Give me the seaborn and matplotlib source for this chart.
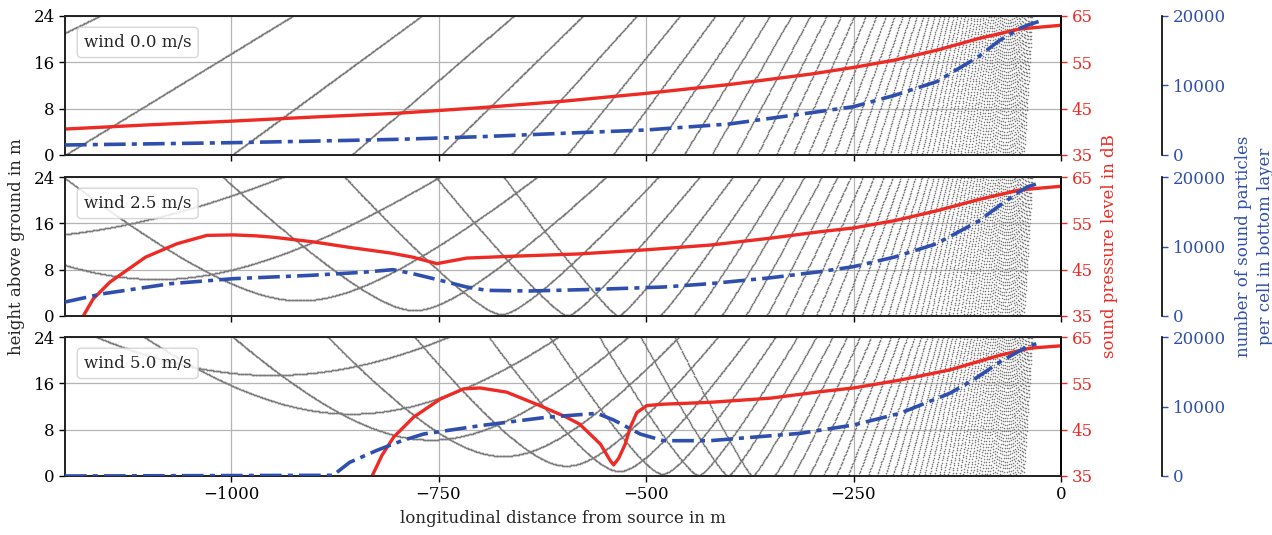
import numpy as np
import pandas as pd
import matplotlib
matplotlib.use("Agg")
import matplotlib.pyplot as plt
import seaborn as sns

# ---------------- data ----------------
WIND_SPEEDS = [0.0, 2.5, 5.0]
PANEL_LABELS = ["wind 0.0 m/s", "wind 2.5 m/s", "wind 5.0 m/s"]

# sound pressure level (dB) along the ground
p1_spl_x = [-1200, -1100, -1000, -900, -800, -750, -700, -600, -500, -400, -300, -250, -200, -150, -100, -50, 0]
p1_spl_y = [40.6, 41.5, 42.3, 43.2, 44.0, 44.6, 45.2, 46.6, 48.3, 50.2, 52.5, 53.9, 55.5, 57.6, 60.1, 62.2, 63.0]

p2_spl_x = [-1178, -1166, -1146, -1103, -1065, -1029, -997, -970, -949, -901, -853, -808, -781, -752,
            -716, -660, -580, -499, -423, -350, -290, -250, -200, -150, -100, -50, 0]
p2_spl_y = [35.0, 38.7, 42.3, 47.7, 50.6, 52.4, 52.5, 52.3, 52.0, 51.0, 49.7, 48.6, 47.7, 46.3,
            47.5, 47.9, 48.4, 49.3, 50.3, 51.8, 53.2, 54.0, 55.6, 57.7, 60.1, 62.2, 63.0]

p3_spl_x = [-830, -818, -804, -780, -748, -720, -700, -668, -628, -596, -580, -555, -543, -539,
            -533, -525, -519, -511, -499, -479, -423, -350, -290, -250, -194, -134, -73, -37, 0]
p3_spl_y = [35.0, 39.5, 43.4, 47.7, 51.6, 53.8, 54.0, 53.1, 50.2, 47.7, 46.2, 41.9, 38.3, 37.4,
            38.8, 41.9, 45.5, 48.7, 50.2, 50.5, 50.9, 51.8, 53.2, 54.0, 55.7, 57.9, 61.1, 62.6, 63.1]

# number of sound particles per cell in bottom layer
p1_cnt_x = [-1200, -1100, -1000, -900, -800, -700, -600, -500, -400, -300, -250, -200, -150, -100, -75, -50, -40, -27]
p1_cnt_y = [1440, 1600, 1770, 2000, 2250, 2630, 3120, 3600, 4460, 6100, 6950, 8600, 10550, 14100, 16400, 18200, 18700, 19200]

p2_cnt_x = [-1200, -1154, -1073, -997, -904, -840, -805, -781, -748, -716, -692, -640, -559, -479,
            -423, -350, -290, -250, -200, -150, -100, -75, -50, -40, -27]
p2_cnt_y = [2015, 3210, 4650, 5370, 5850, 6300, 6670, 6090, 5140, 4170, 3690, 3600, 3840, 4170,
            4650, 5500, 6380, 7100, 8500, 10400, 13600, 15800, 17900, 18600, 19100]

p3_cnt_x = [-1200, -877, -857, -824, -794, -768, -700, -620, -559, -539, -507, -479, -423, -314,
            -250, -194, -134, -106, -73, -41, -25]
p3_cnt_y = [0, 100, 1970, 3700, 5080, 6040, 7240, 8450, 9020, 8060, 6040, 5080, 5080, 6140,
            7340, 9020, 11900, 13800, 16450, 18600, 19200]

# sound rays: source height, launch angles (deg, downward), wind profile scale
SOURCE_HEIGHT = 105.0
RAY_ANGLES_DEG = list(range(4, 68))
SOUND_SPEED = 340.0
PROFILE_SCALE = 2.8      # ln(z_ref / z0) of the logarithmic wind profile
Z0 = 0.05

RED = "#ee2a24"
BLUE = "#2f4fae"
GRAY = "#7b7b7b"


def trace_rays(wind, ds=0.7, nsteps=1850):
    th = np.radians(np.array(RAY_ANGLES_DEG, dtype=float))

    def dphi(z, phi):
        zc = np.maximum(z, Z0)
        c = SOUND_SPEED - wind * np.log(zc / Z0) / PROFILE_SCALE
        dc = -wind / (PROFILE_SCALE * zc)
        return -np.cos(phi) * dc / c

    x = np.zeros_like(th)
    z = np.full_like(th, SOURCE_HEIGHT)
    phi = -th
    X = np.empty((nsteps, th.size))
    Z = np.empty((nsteps, th.size))
    grounded = np.zeros(th.size, dtype=bool)
    for i in range(nsteps):
        k1 = dphi(z, phi)
        pm = phi + 0.5 * ds * k1
        zm = z + 0.5 * ds * np.sin(phi)
        x = x - ds * np.cos(pm)
        z = z + ds * np.sin(pm)
        phi = phi + ds * dphi(zm, pm)
        grounded |= z < 0
        X[i] = x
        Z[i] = np.where(grounded, np.nan, z)
    m = np.isfinite(Z) & (Z <= 24.2) & (X >= -1205)
    return X[m], Z[m]


sns.set_theme(style="ticks")
plt.rcParams["font.family"] = ["DejaVu Serif"]
plt.rcParams["mathtext.fontset"] = "dejavuserif"
FS = 12

fig = plt.figure(figsize=(12.72, 5.35), dpi=100)
left, width, height = 65 / 1272, 996 / 1272, 139 / 535
bottoms = [1 - 155 / 535, 1 - 316 / 535, 1 - 476 / 535]

spl_sets = [(p1_spl_x, p1_spl_y), (p2_spl_x, p2_spl_y), (p3_spl_x, p3_spl_y)]
cnt_sets = [(p1_cnt_x, p1_cnt_y), (p2_cnt_x, p2_cnt_y), (p3_cnt_x, p3_cnt_y)]

for i in range(3):
    ax = fig.add_axes([left, bottoms[i], width, height])
    ax.set_xlim(-1200, 0)
    ax.set_ylim(0, 24)
    ax.set_yticks([0, 8, 16, 24])
    ax.set_xticks([-1000, -750, -500, -250, 0])
    ax.grid(True, color="#b4b4b4", lw=0.9)
    ax.set_axisbelow(True)

    rx, rz = trace_rays(WIND_SPEEDS[i])
    ax.plot(rx, rz, linestyle="none", marker="o", ms=1.15, mew=0, color=GRAY, zorder=1)

    ax.tick_params(axis="both", direction="out", length=4.5, width=1, colors="black",
                   labelsize=FS, pad=3)
    if i < 2:
        ax.tick_params(axis="x", labelbottom=False)
    for sp in ax.spines.values():
        sp.set_color("black")
        sp.set_linewidth(1.2)
        sp.set_visible(True)

    ax.text(0.019, 0.81, PANEL_LABELS[i], transform=ax.transAxes, fontsize=FS, va="center", ha="left",
            zorder=5, bbox=dict(boxstyle="round,pad=0.4,rounding_size=0.25", fc="white",
                                ec="#d0d0d0", alpha=0.85, lw=1.0))

    # SPL axis
    axr = ax.twinx()
    axr.set_ylim(35, 65)
    axr.set_yticks([35, 45, 55, 65])
    sx, sy = spl_sets[i]
    sns.lineplot(x=sx, y=sy, ax=axr, color=RED, lw=2.4, sort=False, estimator=None)
    axr.tick_params(axis="y", direction="out", length=4.5, width=1, colors=RED, labelsize=FS, pad=3)
    axr.grid(False)
    axr.spines["right"].set_color("black")
    axr.spines["right"].set_linewidth(1.2)
    axr.set_xlim(-1200, 0)

    # particle count axis
    axb = ax.twinx()
    axb.set_ylim(0, 20000)
    axb.set_yticks([0, 10000, 20000])
    cx, cy = cnt_sets[i]
    sns.lineplot(x=cx, y=cy, ax=axb, color=BLUE, lw=2.6, sort=False, estimator=None,
                 linestyle=(0, (6.0, 1.7, 1.4, 1.7)))
    axb.spines["right"].set_position(("axes", 1.1015))
    axb.spines["right"].set_color("black")
    axb.spines["right"].set_linewidth(1.2)
    for s in ["top", "bottom", "left"]:
        axb.spines[s].set_visible(False)
    axb.tick_params(axis="y", direction="out", length=4.5, width=1, colors=BLUE, labelsize=FS, pad=3)
    axb.grid(False)
    axb.set_xlim(-1200, 0)

    ax.set_xlabel("")
    ax.set_ylabel("")
    axr.set_ylabel("")
    axb.set_ylabel("")
    if i == 1:
        ax.set_ylabel("height above ground in m", fontsize=FS, labelpad=6)
        axr.set_ylabel("sound pressure level in dB", fontsize=FS, color=RED, labelpad=6)
        axb.set_ylabel("number of sound particles\nper cell in bottom layer", fontsize=FS,
                       color=BLUE, labelpad=7, linespacing=1.35)
    if i == 2:
        ax.set_xlabel("longitudinal distance from source in m", fontsize=FS, labelpad=5)

fig.savefig("out.png", dpi=100)
